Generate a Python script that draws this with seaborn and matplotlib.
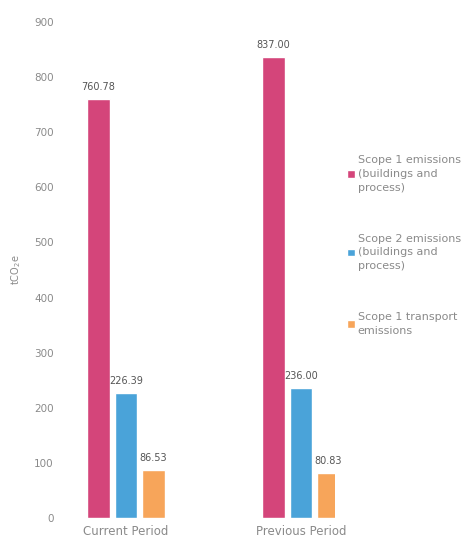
import matplotlib
matplotlib.use("Agg")
import matplotlib.pyplot as plt
import seaborn as sns
import pandas as pd

periods = ["Current Period", "Previous Period"]
series = ["Scope 1 emissions\n(buildings and\nprocess)",
          "Scope 2 emissions\n(buildings and\nprocess)",
          "Scope 1 transport\nemissions"]
scope1 = [760.78, 837.00]
scope2 = [226.39, 236.00]
transport = [86.53, 80.83]
yticks = [0, 100, 200, 300, 400, 500, 600, 700, 800, 900]
colors = ["#d4457a", "#4aa3d9", "#f7a55a"]

rows = []
for i, p in enumerate(periods):
    for s, vals in zip(series, [scope1, scope2, transport]):
        rows.append({"period": p, "series": s, "value": vals[i]})
df = pd.DataFrame(rows)

sns.set_style("white")
plt.rcParams['font.family'] = ['DejaVu Sans']

fig = plt.figure(figsize=(4.77, 5.40), dpi=100)
ax = fig.add_axes([0.136, 0.041, 0.566, 0.918])
sns.barplot(data=df, x="period", y="value", hue="series", palette=colors,
            width=0.47, gap=0.18, ax=ax, saturation=1, legend=True)

for cont in ax.containers:
    ax.bar_label(cont, fmt="%.2f", padding=5, fontsize=7, color="#555555")

ax.set_ylim(0, 900)
ax.set_yticks(yticks)
ax.set_yticklabels([str(t) for t in yticks], fontsize=7.5, color="#8a8a8a")
ax.set_xlim(-0.349, 1.194)
ax.tick_params(axis="x", labelsize=8.5, colors="#8a8a8a", length=0, pad=5)
ax.tick_params(axis="y", length=0, pad=8)
ax.set_xlabel("")
ax.set_ylabel("tCO$_2$e", fontsize=7, color="#8a8a8a", labelpad=8)
for sp in ax.spines.values():
    sp.set_visible(False)
ax.grid(False)

leg = ax.legend(loc="upper left", bbox_to_anchor=(1.045, 0.731), frameon=False,
                prop={"size": 8}, labelcolor="#8a8a8a", handlelength=0.7,
                handleheight=0.7, handletextpad=0.25, labelspacing=3.7,
                borderaxespad=0, borderpad=0)
for t in leg.get_texts():
    t.set_linespacing(1.45)

fig.savefig("out.png", dpi=100)
